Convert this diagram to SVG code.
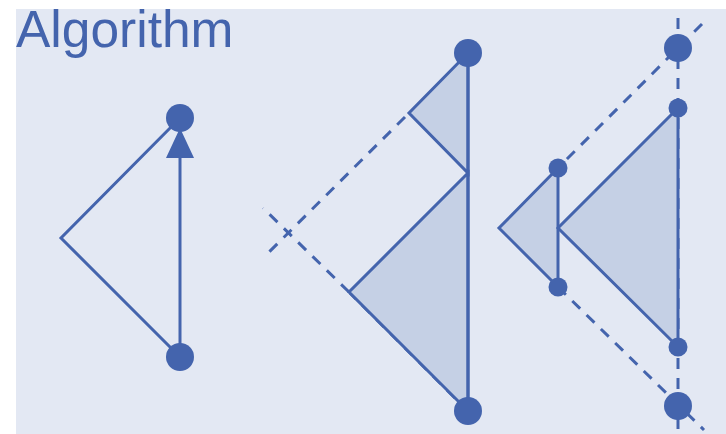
<svg xmlns="http://www.w3.org/2000/svg" width="726" height="434" viewBox="0 0 726 434">
<style>
.ln{stroke:#4464AD;stroke-width:3;fill:none;stroke-linejoin:miter}
.tri{stroke:#4464AD;stroke-width:3;fill:#C5D0E5;stroke-linejoin:miter}
.ds{stroke:#4464AD;stroke-width:3;fill:none;stroke-dasharray:11 9}
.dot{fill:#4464AD}
.t{font-family:"Liberation Sans",Arial,sans-serif;font-size:51.5px;fill:#4464AD}
</style>
<rect x="16" y="9" width="710" height="425" fill="#E3E8F3"/>
<text class="t" x="16" y="47">Algorithm</text>
<g id="connectors">
<line class="ds" x1="405" y1="117" x2="264" y2="257"/>
<line class="ds" x1="349" y1="292" x2="263" y2="208"/>
<line class="ds" x1="469" y1="412" x2="350" y2="293"/>
<line class="ds" x1="678" y1="18" x2="678" y2="434"/>
<line class="ds" x1="702" y1="24" x2="558" y2="168"/>
<line class="ds" x1="558" y1="287" x2="704" y2="430"/>
</g>
<g id="left">
<polyline class="ln" points="180,118 61,238 180,357"/>
<line class="ln" x1="180" y1="357" x2="180" y2="150"/>
<polygon class="dot" points="180,128 194,158 166,158"/>
<circle class="dot" cx="180" cy="118" r="14"/>
<circle class="dot" cx="180" cy="357" r="14"/>
</g>
<g id="middle">
<polygon class="tri" points="468,53 409,113 468,173"/>
<polygon class="tri" points="468,173 349,292 468,411"/>
<line class="ln" x1="468" y1="53" x2="468" y2="411"/>
<circle class="dot" cx="468" cy="53" r="14"/>
<circle class="dot" cx="468" cy="411" r="14"/>
</g>
<g id="right">
<polygon class="tri" points="558,168 499,228 558,287"/>
<polygon class="tri" points="678,108 558,228 678,347"/>
<circle class="dot" cx="678" cy="48" r="14"/>
<circle class="dot" cx="678" cy="406" r="14"/>
<circle class="dot" cx="558" cy="168" r="9.5"/>
<circle class="dot" cx="558" cy="287" r="9.5"/>
<circle class="dot" cx="678" cy="108" r="9.5"/>
<circle class="dot" cx="678" cy="347" r="9.5"/>
</g>
</svg>
